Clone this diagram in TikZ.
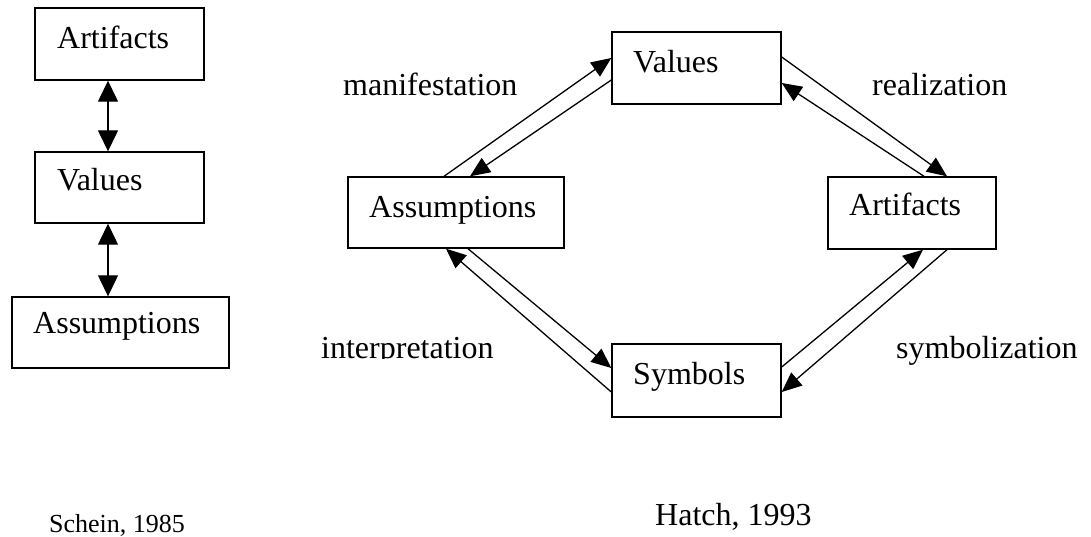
\documentclass[tikz,border=0pt]{standalone}
\usepackage{fontspec}
\setmainfont{Liberation Serif}
\usetikzlibrary{arrows.meta}
\begin{document}
\begin{tikzpicture}[x=1pt,y=-1pt,
  box/.style={draw,line width=1.4pt,inner sep=0pt,anchor=center},
  txt/.style={anchor=base west,inner sep=0pt,font=\fontsize{32pt}{36pt}\selectfont},
  small/.style={anchor=base west,inner sep=0pt,font=\fontsize{26pt}{30pt}\selectfont},
  conn/.style={line width=1.3pt,-{Triangle[length=20pt,width=17pt]}},
  dconn/.style={line width=1.3pt,{Triangle[length=21pt,width=20pt]}-{Triangle[length=21pt,width=20pt]}}]
\useasboundingbox (0,0) rectangle (1091,536);
% left column (Schein)
\node[box,minimum width=169pt,minimum height=72pt] (LArt) at (119.5,44) {};
\node[box,minimum width=169pt,minimum height=71pt] (LVal) at (119.5,187.5) {};
\node[box,minimum width=217pt,minimum height=71pt] (LAss) at (120.5,332.5) {};
\node[txt] (tLArt) at (57,48) {Artifacts};
\node[txt] (tLVal) at (57,190) {Values};
\node[txt] (tLAss) at (33,333) {Assumptions};
\draw[dconn] ([xshift=-11.5pt]LArt.south) -- ([xshift=-11.5pt]LVal.north);
\draw[dconn] ([xshift=-11.5pt]LVal.south) -- ([xshift=-12.5pt]LAss.north);
% right diagram (Hatch)
\node[box,minimum width=169pt,minimum height=72pt] (Val) at (696.5,68) {};
\node[box,minimum width=216pt,minimum height=71pt] (Ass) at (456,212.5) {};
\node[box,minimum width=168pt,minimum height=72pt] (Art) at (912,213) {};
\node[box,minimum width=169pt,minimum height=73pt] (Sym) at (696.5,380.5) {};
\node[txt] (tVal) at (633,72) {Values};
\node[txt] (tAss) at (369,217) {Assumptions};
\node[txt] (tArt) at (849,215) {Artifacts};
\node[txt] (tSym) at (633,384) {Symbols};
\draw[conn] ([xshift=-12pt]Ass.north) -- ([yshift=10pt]Val.west);
\draw[conn] ([yshift=-12pt]Val.west) -- ([xshift=14pt]Ass.north);
\draw[conn] ([yshift=11pt]Val.east) -- ([xshift=35pt]Art.north);
\draw[conn] ([xshift=12pt]Art.north) -- ([yshift=-15pt]Val.east);
\draw[conn] ([yshift=13.5pt]Sym.east) -- ([xshift=11pt]Art.south);
\draw[conn] ([xshift=35pt]Art.south) -- ([yshift=-11.5pt]Sym.east);
\draw[conn] ([yshift=-11.5pt]Sym.west) -- ([xshift=-10pt]Ass.south);
\draw[conn] ([xshift=12pt]Ass.south) -- ([yshift=12.5pt]Sym.west);
\node[txt] (lMan) at (343,95) {manifestation};
\node[txt] (lRea) at (872,95) {realization};
\begin{scope}
\clip (300,300) rectangle (520,358.5);
\node[txt] (lInt) at (321,358) {interpretation};
\end{scope}
\node[txt] (lSym) at (896,358) {symbolization};
\node[small] (cSchein) at (49,532) {Schein, 1985};
\node[txt] (cHatch) at (655,525) {Hatch, 1993};
\end{tikzpicture}
\end{document}
